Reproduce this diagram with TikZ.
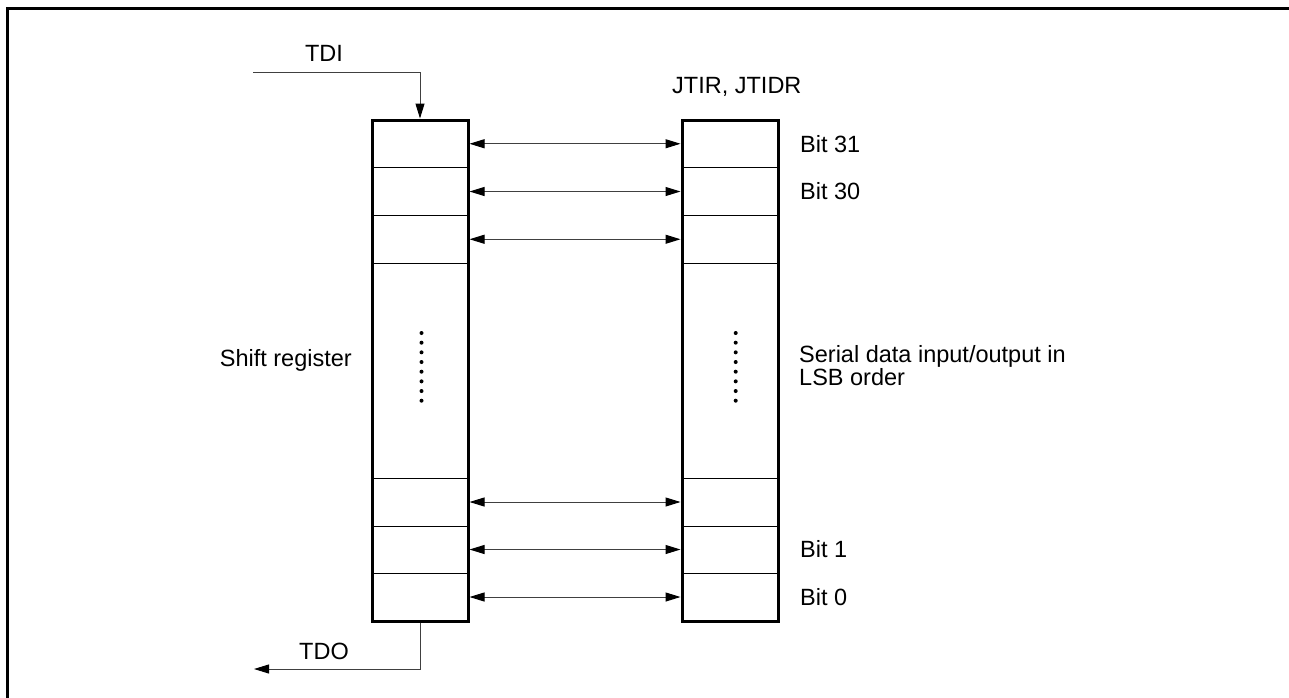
\documentclass[tikz,border=0pt]{standalone}
\usepackage{fontspec}
\setmainfont{Liberation Sans}
\usetikzlibrary{arrows.meta,fit}
\begin{document}
\begin{tikzpicture}[x=1pt,y=-1pt,
  cell/.style={draw,line width=0.9pt,minimum width=96pt,inner sep=0pt,outer sep=0pt},
  outline/.style={draw,line width=3pt,inner sep=0pt},
  link/.style={line width=1pt,draw=black!75,{Triangle[length=15pt,width=9pt,color=black]}-{Triangle[length=15pt,width=9pt,color=black]}},
  sig/.style={line width=1pt,draw=black!75,-{Triangle[length=15pt,width=9pt,color=black]}},
  lbl/.style={font=\fontsize{23.5}{20}\selectfont,inner sep=0pt},
  dotmark/.style={circle,fill,inner sep=0pt,minimum size=4pt}
]
\useasboundingbox (0,0) rectangle (1289,697);
% frame
\draw[line width=3pt] (7.3,700) -- (7.3,8.7) -- (1295,8.7);

% cells
\foreach \side/\x in {L/420,R/730}{
  \node[cell,minimum height=47.5pt] (\side1) at (\x,143.75) {};
  \node[cell,minimum height=48pt]   (\side2) at (\x,191.5) {};
  \node[cell,minimum height=47.5pt] (\side3) at (\x,239.25) {};
  \node[cell,minimum height=215pt]  (\side4) at (\x,370.5) {};
  \node[cell,minimum height=48pt]   (\side5) at (\x,502) {};
  \node[cell,minimum height=47pt]   (\side6) at (\x,549.5) {};
  \node[cell,minimum height=48pt]   (\side7) at (\x,597) {};
}
\node[outline,fit=(L1)(L7)] (LB) {};
\node[outline,fit=(R1)(R7)] (RB) {};

% dots
\foreach \i in {0,...,7}{
  \node[dotmark] at ([xshift=1.5pt,yshift=37.5pt-\i*9.67pt]L4.center) {};
  \node[dotmark] at ([xshift=5.7pt,yshift=37.5pt-\i*9.67pt]R4.center) {};
}

% links
\foreach \i in {1,2,3,5,6,7}{
  \draw[link] (LB.east |- L\i.east) -- (RB.west |- R\i.west);
}

% TDI / TDO
\coordinate (tdi) at (253,72);
\coordinate (tdo) at (254,669);
\draw[sig] (tdi) -| (LB.north);
\draw[sig] (LB.south) |- (tdo);
\node[lbl] (tdilbl) at (324,53) {TDI};
\node[lbl] (tdolbl) at (324,651) {TDO};

% labels
\node[lbl,anchor=base west] (jt) at (672,93) {JTIR, JTIDR};
\node[lbl,anchor=west] (b31) at ([xshift=22pt]R1.east) {Bit 31};
\node[lbl,anchor=west] (b30) at ([xshift=22pt]R2.east) {Bit 30};
\node[lbl,anchor=west] (b1) at ([xshift=22pt]R6.east) {Bit 1};
\node[lbl,anchor=west] (b0) at ([xshift=22pt]R7.east) {Bit 0};
\node[lbl,anchor=east] (sr) at (352,360) {Shift register};
\node[lbl,anchor=west,align=left] (sd) at (799,366) {Serial data input/output in\\LSB order};
\end{tikzpicture}
\end{document}
